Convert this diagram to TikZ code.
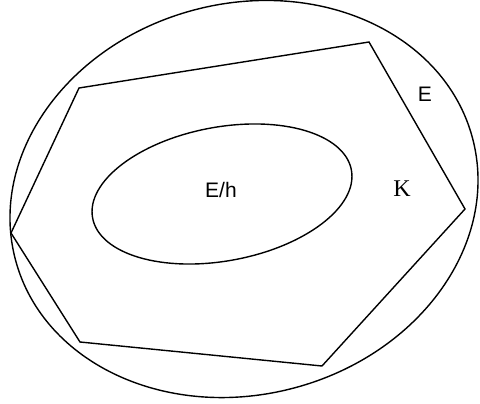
\documentclass[tikz,border=0pt]{standalone}
\usepackage{fontspec}
\setmainfont{Liberation Sans}
\newfontfamily\serifk{Liberation Serif}
\tikzset{
  curve/.style={draw=black, line width=1.4pt},
  lbl/.style={inner sep=0pt, font=\fontsize{21}{23}\selectfont},
}
\begin{document}
\begin{tikzpicture}[x=1pt,y=-1pt]
\useasboundingbox (0,0) rectangle (480,404);
\fill[white] (0,0) rectangle (480,404);
% outer ellipse
\draw[curve] (244,199) [rotate around={15:(244,199)}] ellipse [x radius=236.5, y radius=195.5];
% inner ellipse
\draw[curve] (222,194) [rotate around={10.5:(222,194)}] ellipse [x radius=131.6, y radius=66.9];
% polygon
\coordinate (p1) at (79,88);
\coordinate (p2) at (369,42);
\coordinate (p3) at (465,209);
\coordinate (p4) at (322,366);
\coordinate (p5) at (80,342);
\coordinate (p6) at (11,233);
\draw[curve, line join=miter] (p1) -- (p2) -- (p3) -- (p4) -- (p5) -- (p6) -- cycle;
% labels
\node[lbl] (e) at (425,94) {E};
\node[lbl] (eh) at (221,190) {E/h};
\node[lbl, font=\serifk\fontsize{24}{26}\selectfont] (k) at (402,189) {K};
\end{tikzpicture}
\end{document}
